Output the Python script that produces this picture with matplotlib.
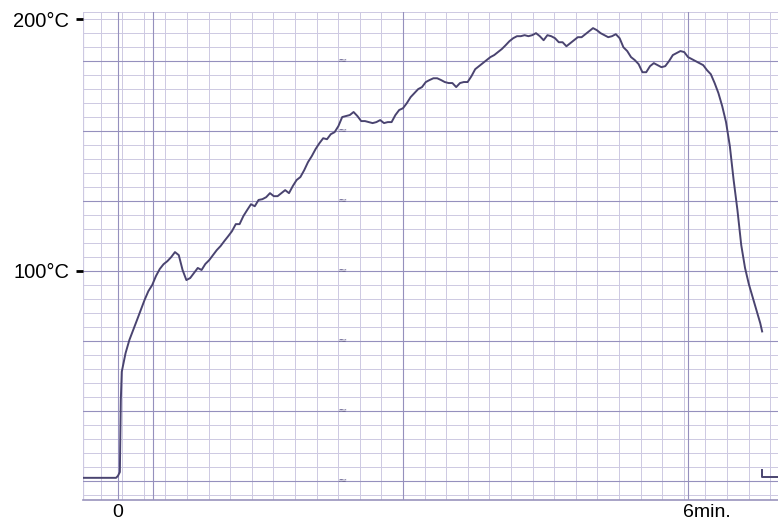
import numpy as np
import matplotlib
matplotlib.use("Agg")
import matplotlib.pyplot as plt
from matplotlib.transforms import blended_transform_factory

# ---- recorded trace (time in minutes, temperature in deg C) ----
# pen at rest before start, then the jump when the probe is inserted
lead_t = [-0.37, -0.02, 0.00, 0.02, 0.03]
lead_T = [17.9, 17.9, 18.7, 20.2, 48.8]

# main trace, one reading every 0.04 min from t = 0.04
sample_step = 0.04
main_T = [
    60.0, 67.4, 72.6, 76.5, 80.5, 84.5, 88.5, 92.0, 94.4, 98.0,
    100.8, 102.7, 103.9, 105.5, 107.5, 106.3, 100.4, 96.4, 97.2, 99.2,
    101.2, 100.4, 102.8, 104.3, 106.3, 108.3, 109.9, 111.9, 113.8, 115.8,
    118.6, 118.6, 121.8, 124.2, 126.5, 125.7, 128.2, 128.5, 129.3, 130.9,
    129.7, 129.7, 130.9, 132.1, 130.9, 133.7, 136.1, 137.3, 140.0, 143.2,
    145.6, 148.4, 150.7, 152.7, 152.3, 154.3, 155.1, 157.5, 161.1, 161.5,
    161.9, 163.1, 161.5, 159.5, 159.5, 159.1, 158.7, 159.1, 159.9, 158.7,
    159.1, 159.1, 161.9, 163.9, 164.6, 166.6, 169.0, 170.6, 172.2, 173.0,
    175.0, 175.8, 176.5, 176.5, 175.8, 175.0, 174.6, 174.6, 173.0, 174.6,
    175.0, 175.0, 177.3, 180.1, 181.3, 182.5, 183.7, 184.9, 185.7, 186.9,
    188.1, 189.6, 191.2, 192.4, 193.2, 193.2, 193.6, 193.2, 193.6, 194.4,
    193.2, 191.6, 193.6, 193.2, 192.4, 190.8, 190.8, 189.2, 190.4, 191.6,
    192.8, 192.8, 194.0, 195.2, 196.4, 195.6, 194.4, 193.6, 192.8, 193.2,
    194.0, 192.4, 188.8, 187.3, 184.9, 183.7, 182.1, 178.9, 178.9, 181.3,
    182.5, 181.7, 180.9, 181.3, 183.3, 185.7, 186.5, 187.3, 186.9, 184.9,
    184.1, 183.3, 182.5, 181.7, 179.7, 178.1, 174.6, 170.6, 165.4, 159.1,
    149.6, 136.1, 124.2, 110.3, 101.2, 94.8, 89.6, 84.5, 79.3,
]
end_t = [6.78]
end_T = [76.0]

# pen back at rest after the probe is withdrawn
tail_t = [6.78, 6.78, 6.97]
tail_T = [21.0, 18.3, 18.3]

# axis labels
y_ticks = [100, 200]
y_labels = ["100°C", "200°C"]
x_ticks = [0, 6]
x_labels = ["0", "6min."]

main_t = list(np.round(np.arange(1, len(main_T) + 1) * sample_step, 2))
trace_t = lead_t + main_t + end_t
trace_T = lead_T + main_T + end_T

# ---- figure ----
W, H, DPI = 778, 522, 100
fig = plt.figure(figsize=(W / DPI, H / DPI), dpi=DPI)
fig.patch.set_facecolor("white")
ax = fig.add_axes([83 / W, (H - 500) / H, (W - 83) / W, (500 - 12) / H])
ax.set_facecolor("white")

xmin, xmax = -0.368, 6.947
ymin, ymax = 9.1, 202.8
ax.set_xlim(xmin, xmax)
ax.set_ylim(ymin, ymax)

# chart-paper grid
minor_c = "#cdc9e2"
major_c = "#9590bd"
dx = 0.2274          # vertical ruling spacing (min)
dy = 100 / 18        # horizontal ruling spacing (deg C)
vx = 3.0 + dx * np.arange(-15, 18)
for x in vx:
    if xmin <= x <= xmax:
        ax.axvline(x, color=minor_c, lw=0.7, zorder=1)
for x in [0.0, 0.368, 3.0, 6.0]:
    ax.axvline(x, color=major_c, lw=0.8, zorder=1.2)
hy = 100 + dy * np.arange(-18, 20)
for y in hy:
    if ymin <= y <= ymax:
        k = int(round((y - 100) / dy))
        if k % 5 == 0:
            ax.axhline(y, color=major_c, lw=0.8, zorder=1.2)
        else:
            ax.axhline(y, color=minor_c, lw=0.7, zorder=1)
ax.axhline(ymax, color=minor_c, lw=0.7, zorder=1)
ax.axvline(xmin, color=minor_c, lw=0.9, zorder=1)

# small printed marks on the paper
for y in 100 + 5 * dy * np.arange(-3, 4):
    ax.text(2.36, y, "≈", fontsize=8, color="#6e6894", ha="center",
            va="center", zorder=2)

# trace
pen = "#4a4470"
ax.plot(trace_t, trace_T, color=pen, lw=1.4, solid_joinstyle="round", zorder=3)
ax.plot(tail_t, tail_T, color=pen, lw=1.4, zorder=3)

for s in ["top", "right", "left"]:
    ax.spines[s].set_visible(False)
ax.spines["bottom"].set_color("#9a94bc")
ax.spines["bottom"].set_linewidth(1.2)

font = "Liberation Sans"
ax.set_yticks(y_ticks)
ax.set_yticklabels(y_labels, fontsize=14.5, family=font)
ax.tick_params(axis="y", length=5, width=2, color="black", pad=5)
ax.set_xticks([])

trans = blended_transform_factory(ax.transData, ax.transAxes)
ax.annotate(x_labels[0], xy=(x_ticks[0], 0), xycoords=trans,
            xytext=(0, -4), textcoords="offset pixels", ha="center", va="top",
            fontsize=14, family=font)
ax.annotate(x_labels[1], xy=(x_ticks[1], 0), xycoords=trans,
            xytext=(-5, -4), textcoords="offset pixels", ha="left", va="top",
            fontsize=14, family=font)

fig.savefig("out.png", dpi=DPI, facecolor="white")
